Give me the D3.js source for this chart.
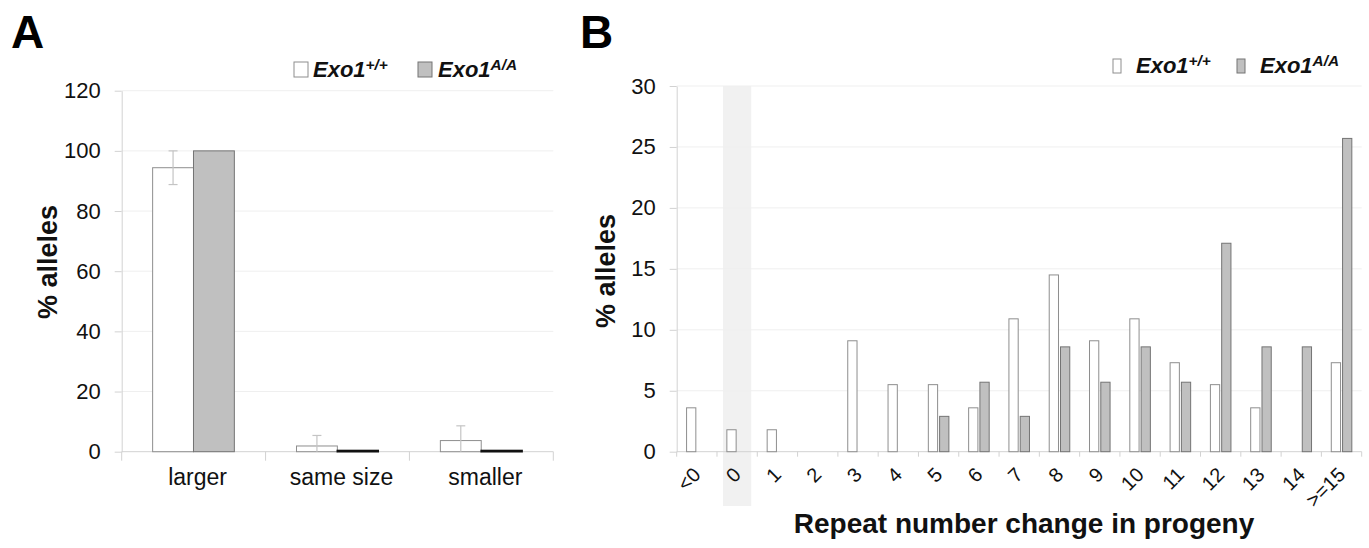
<!DOCTYPE html>
<html>
<head>
<meta charset="utf-8">
<script src="https://cdn.jsdelivr.net/npm/d3@7"></script>
<style>
  body { margin: 0; background: #fff; }
  svg { display: block; font-family: "Liberation Sans", Arial, sans-serif; }
</style>
</head>
<body>
<script>
// panel A: size of progeny alleles
var catsA = ['larger', 'same size', 'smaller'];
var wtA = [94.4, 1.9, 3.7];
var wtErrA = [5.6, 3.5, 4.9];
var aaA = [100, 0.4, 0.4];
var ticksA = [0, 20, 40, 60, 80, 100, 120];

// panel B: repeat number change
var catsB = ['<0', '0', '1', '2', '3', '4', '5', '6', '7', '8', '9', '10', '11', '12', '13', '14', '>=15'];
var wtB = [3.6, 1.8, 1.8, 0, 9.1, 5.5, 5.5, 3.6, 10.9, 14.5, 9.1, 10.9, 7.3, 5.5, 3.6, 0, 7.3];
var aaB = [0, 0, 0, 0, 0, 0, 2.9, 5.7, 2.9, 8.6, 5.7, 8.6, 5.7, 17.1, 8.6, 8.6, 25.7];
var ticksB = [0, 5, 10, 15, 20, 25, 30];
var highlightB = '0';

var seriesName = 'Exo1';
var seriesSup = ['+/+', 'A/A'];

// styles
var fillWt = '#ffffff', fillAa = '#c0c0c0',
    strokeWt = '#8e8e8e', strokeAa = '#747474',
    gridCol = '#efefef', axisCol = '#d2d2d2', errCol = '#c4c4c4',
    textCol = '#111';

var svg = d3.select('body').append('svg')
  .attr('width', 1369)
  .attr('height', 548);

function yAxis(g, y, ticks, x0, x1) {
  // gridlines
  g.selectAll('line.grid').data(ticks.filter(function(t){ return t > 0; }))
    .enter().append('line')
    .attr('x1', x0).attr('x2', x1)
    .attr('y1', function(d){ return y(d); }).attr('y2', function(d){ return y(d); })
    .attr('stroke', gridCol).attr('stroke-width', 1);

  var ax = g.append('g')
    .attr('transform', 'translate(' + x0 + ',0)')
    .call(d3.axisLeft(y).tickValues(ticks).tickSize(7).tickSizeOuter(0).tickPadding(14).tickFormat(d3.format('d')));
  ax.select('.domain').attr('stroke', axisCol);
  ax.selectAll('.tick line').attr('stroke', axisCol);
  ax.selectAll('.tick text').attr('font-size', 22).attr('fill', textCol)
    .attr('font-family', '"Liberation Sans", Arial, sans-serif');
}

function xBase(g, x, y0, cats, tickLen) {
  var r = x.range();
  g.append('line')
    .attr('x1', r[0]).attr('x2', r[1]).attr('y1', y0).attr('y2', y0)
    .attr('stroke', axisCol);
  var edges = cats.map(function(c){ return x(c); }).concat([r[1]]);
  g.selectAll('line.xt').data(edges).enter().append('line')
    .attr('x1', function(d){ return d; }).attr('x2', function(d){ return d; })
    .attr('y1', y0).attr('y2', y0 + tickLen)
    .attr('stroke', axisCol);
}

function legend(g, items, fs, boxW, boxH, baseY) {
  items.forEach(function(it, i) {
    g.append('rect')
      .attr('x', it.bx).attr('y', baseY - boxH)
      .attr('width', boxW).attr('height', boxH)
      .attr('fill', i === 0 ? fillWt : fillAa)
      .attr('stroke', i === 0 ? strokeWt : strokeAa);
    var t = g.append('text')
      .attr('x', it.tx).attr('y', baseY)
      .attr('font-size', fs).attr('font-weight', 'bold').attr('font-style', 'italic')
      .attr('fill', textCol);
    t.append('tspan').text(seriesName);
    t.append('tspan').attr('dy', -fs * 0.33).attr('font-size', fs * 0.7).text(seriesSup[i]);
  });
}

// ---------------- panel A ----------------
var gA = svg.append('g');
var xA = d3.scaleBand().domain(catsA).range([121.7, 553.3]);
var yA = d3.scaleLinear().domain([0, 120]).range([451.7, 90.7]);
var bwA = xA.bandwidth();

yAxis(gA, yA, ticksA, 121.7, 553.3);
xBase(gA, xA, yA(0), catsA, 9);

var barW = bwA * 0.284, offA = bwA * 0.215;
var rowsA = catsA.map(function(c, i){ return { cat: c, wt: wtA[i], err: wtErrA[i], aa: aaA[i] }; });

gA.selectAll('rect.wt').data(rowsA).enter().append('rect')
  .attr('x', function(d){ return xA(d.cat) + offA; })
  .attr('y', function(d){ return yA(d.wt); })
  .attr('width', barW)
  .attr('height', function(d){ return yA(0) - yA(d.wt); })
  .attr('fill', fillWt).attr('stroke', strokeWt);

gA.selectAll('rect.aa').data(rowsA).enter().append('rect')
  .attr('x', function(d){ return xA(d.cat) + offA + barW; })
  .attr('y', function(d){ return yA(d.aa); })
  .attr('width', barW)
  .attr('height', function(d){ return yA(0) - yA(d.aa); })
  .attr('fill', fillAa)
  .attr('stroke', function(d){ return (yA(0) - yA(d.aa)) < 3 ? '#111' : strokeAa; })
  .attr('stroke-width', function(d){ return (yA(0) - yA(d.aa)) < 3 ? 1.6 : 1; });

// error bars on wild type
var errG = gA.selectAll('g.err').data(rowsA).enter().append('g')
  .attr('stroke', errCol).attr('stroke-width', 1.2);
errG.append('line')
  .attr('x1', function(d){ return xA(d.cat) + offA + barW / 2; })
  .attr('x2', function(d){ return xA(d.cat) + offA + barW / 2; })
  .attr('y1', function(d){ return yA(d.wt + d.err); })
  .attr('y2', function(d){ return yA(Math.max(0, d.wt - d.err)); });
errG.append('line')
  .attr('x1', function(d){ return xA(d.cat) + offA + barW / 2 - 4.5; })
  .attr('x2', function(d){ return xA(d.cat) + offA + barW / 2 + 4.5; })
  .attr('y1', function(d){ return yA(d.wt + d.err); })
  .attr('y2', function(d){ return yA(d.wt + d.err); });
errG.filter(function(d){ return d.wt - d.err > 0; }).append('line')
  .attr('x1', function(d){ return xA(d.cat) + offA + barW / 2 - 4.5; })
  .attr('x2', function(d){ return xA(d.cat) + offA + barW / 2 + 4.5; })
  .attr('y1', function(d){ return yA(d.wt - d.err); })
  .attr('y2', function(d){ return yA(d.wt - d.err); });

gA.selectAll('text.xl').data(catsA).enter().append('text')
  .attr('x', function(d){ return xA(d) + bwA / 2 + 4; })
  .attr('y', 485)
  .attr('text-anchor', 'middle')
  .attr('font-size', 23).attr('fill', textCol)
  .text(function(d){ return d; });

gA.append('text')
  .attr('transform', 'translate(57,262) rotate(-90)')
  .attr('text-anchor', 'middle')
  .attr('font-size', 27).attr('font-weight', 'bold').attr('fill', textCol)
  .text('% alleles');

legend(gA, [{ bx: 294, tx: 313 }, { bx: 418, tx: 438 }], 22, 14, 15, 77);

gA.append('text').attr('x', 11).attr('y', 48)
  .attr('font-size', 46).attr('font-weight', 'bold').attr('fill', '#000').text('A');

// ---------------- panel B ----------------
var gB = svg.append('g');
var xB = d3.scaleBand().domain(catsB).range([676.7, 1361.7]);
var yB = d3.scaleLinear().domain([0, 30]).range([451.7, 86]);
var bwB = xB.bandwidth();

gB.append('rect')
  .attr('x', xB(highlightB) + bwB * 0.15)
  .attr('y', yB(30))
  .attr('width', bwB * 0.7)
  .attr('height', 506 - yB(30))
  .attr('fill', '#f1f1f1');

yAxis(gB, yB, ticksB, 676.7, 1361.7);
xBase(gB, xB, yB(0), catsB, 5);

var barWB = bwB * 0.23;
var rowsB = catsB.map(function(c, i){ return { cat: c, wt: wtB[i], aa: aaB[i] }; });

gB.selectAll('rect.wt').data(rowsB.filter(function(d){ return d.wt > 0; })).enter().append('rect')
  .attr('x', function(d){ return xB(d.cat) + bwB * 0.245; })
  .attr('y', function(d){ return yB(d.wt); })
  .attr('width', barWB)
  .attr('height', function(d){ return yB(0) - yB(d.wt); })
  .attr('fill', fillWt).attr('stroke', strokeWt);

gB.selectAll('rect.aa').data(rowsB.filter(function(d){ return d.aa > 0; })).enter().append('rect')
  .attr('x', function(d){ return xB(d.cat) + bwB * 0.525; })
  .attr('y', function(d){ return yB(d.aa); })
  .attr('width', barWB)
  .attr('height', function(d){ return yB(0) - yB(d.aa); })
  .attr('fill', fillAa).attr('stroke', strokeAa);

gB.selectAll('text.xl').data(catsB).enter().append('text')
  .attr('transform', function(d){ return 'translate(' + (xB(d) + bwB / 2 + 5) + ',476) rotate(-45)'; })
  .attr('text-anchor', 'end')
  .attr('font-size', 20).attr('fill', textCol)
  .text(function(d){ return d; });

gB.append('text')
  .attr('transform', 'translate(615,271) rotate(-90)')
  .attr('text-anchor', 'middle')
  .attr('font-size', 27).attr('font-weight', 'bold').attr('fill', textCol)
  .text('% alleles');

gB.append('text')
  .attr('x', 1024).attr('y', 533)
  .attr('text-anchor', 'middle')
  .attr('font-size', 28).attr('font-weight', 'bold').attr('fill', textCol)
  .text('Repeat number change in progeny');

legend(gB, [{ bx: 1113, tx: 1136 }, { bx: 1237, tx: 1260 }], 22, 8, 14, 73);

gB.append('text').attr('x', 580).attr('y', 48)
  .attr('font-size', 46).attr('font-weight', 'bold').attr('fill', '#000').text('B');
</script>
</body>
</html>
